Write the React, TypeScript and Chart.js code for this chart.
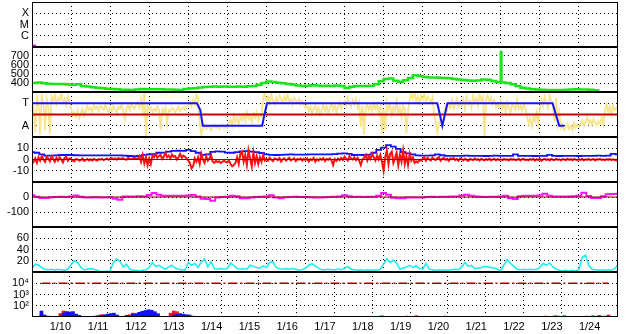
import React, { useEffect, useRef } from 'react';
import { Chart, registerables } from 'chart.js';

Chart.register(...registerables);

// ---------------- layout constants ----------------
const W = 628;
const H = 334;
const AXIS_W = 32;
const RIGHT_PAD = 10;
const PANEL_H = 45;
const PANEL_TOPS = [2, 47, 92, 137, 182, 227, 272];
const EDGE = 2;
const X_AXIS_H = 17;
const TOTAL_HOURS = 360;
const FONT = { family: "'Liberation Sans', Arial, sans-serif", size: 11 };

// ---------------- data ----------------
const DAY_LABELS = ['1/10', '1/11', '1/12', '1/13', '1/14', '1/15', '1/16', '1/17', '1/18', '1/19', '1/20', '1/21', '1/22', '1/23', '1/24'];
const REF_HOURS = [0, 360];

// panel 1 : X / M / C
const CAT_TICKS = [1, 2, 3];
const CAT_LABELS = ['C', 'M', 'X'];
const CAT_MARK_HOURS = [0, 2.5];
const CAT_MARK_VALUES = [0.13, 0.13];

// panel 2 : green (3 h step)
const P2_TICKS = [400, 500, 600, 700];
const GREEN_STEP = 3;
const GREEN_VALUES = [
  400, 405, 397, 392, 390, 390, 389, 384,
  380, 385, 368, 360, 352, 347, 341, 336,
  333, 330, 326, 324, 322, 327, 333, 331,
  330, 330, 331, 329, 327, 325, 322, 332,
  340, 343, 350, 355, 358, 360, 358, 360,
  359, 357, 360, 359, 364, 368, 380, 400,
  418, 410, 402, 398, 390, 382, 372, 368,
  370, 376, 372, 368, 370, 368, 371, 368,
  345, 358, 366, 368, 366, 370, 385, 420,
  445, 450, 425, 415, 430, 455, 485, 478,
  468, 462, 460, 458, 455, 452, 445, 438,
  433, 428, 424, 428, 440, 436, 422, 412,
  407, 400, 385, 368, 348, 338, 331, 327,
  324, 322, 322, 321, 323, 325, 328, 330,
  328, 327, 325, 320, 316,
];
const GREEN_SPIKE_HOURS = [287.6, 288, 288.4];
const GREEN_SPIKE_VALUES = [408, 745, 405];

// panel 3 : T / A  (yellow 1 h step)
const STATE_TICKS = [1, 3];
const STATE_LABELS = ['A', 'T'];
const THRESHOLD = [2, 2];
const YELLOW_STEP = 1;
const YELLOW_VALUES = [
  3.2, 2.6, 0.4, 3.5, 2.9, 0.2, 3.7, 3.0, 0.6, 3.4, 2.7, 0.3, 3.6, 3.1, 3.8, 2.9, 3.5, 3.2, 3.9, 3.0, 3.4, 2.8, 3.6, 3.1,
  2.6, 1.9, 2.2, 1.8, 2.4, 1.7, 2.1, 2.5, 1.9, 2.3, 2.8, 2.4, 2.6, 2.2, 2.9, 2.5, 2.7, 2.3, 2.8, 2.6, 2.4, 2.9, 2.5, 2.2,
  2.6, 2.3, 2.8, 2.4, 2.2, 2.7, 2.5, 2.9, 2.3, 1.6, 2.6, 2.8, 2.4, 3.0, 2.7, 2.5, 2.9, 3.1, 2.6, 3.4, 2.3, 4.0, 0.1, 2.8,
  2.4, 2.6, 2.2, 2.5, 2.3, 2.7, 2.4, 0.6, 2.5, 2.2, 2.6, 1.2, 2.4, 2.3, 2.6, 2.5, 2.2, 2.4, 2.7, 2.3, 2.5, 2.6, 2.4, 2.7,
  2.8, 3.1, 2.7, 3.3, 2.9, 3.8, 3.5, 1.2, 0.2, 0.8, 1.1, 0.7, 0.9, 1.0, 0.6, 0.9, 1.1, 0.8, 1.0, 0.7, 0.9, 1.1, 0.8, 1.0,
  0.8, 1.2, 1.6, 1.0, 1.9, 1.3, 1.7, 1.1, 1.8, 1.5, 2.0, 1.4, 2.2, 1.6, 1.9, 1.3, 2.1, 1.7, 2.2, 1.5, 2.0, 1.8, 3.5, 3.9,
  3.2, 3.6, 3.0, 3.8, 3.3, 2.9, 3.5, 3.1, 3.7, 3.4, 3.0, 3.6, 3.2, 3.8, 3.1, 3.4, 2.9, 3.5, 3.3, 3.0, 3.4, 2.9, 3.2, 2.8,
  2.6, 2.9, 2.3, 2.7, 2.1, 2.5, 2.8, 2.2, 2.6, 2.0, 2.4, 2.9, 2.3, 2.7, 2.1, 2.6, 3.0, 2.4, 2.8, 2.2, 2.7, 3.1, 2.5, 2.9,
  3.2, 2.8, 3.5, 3.0, 2.7, 3.3, 2.9, 3.4, 2.6, 3.1, 0.9, 2.8, 0.2, 2.6, 2.9, 2.4, 2.8, 2.3, 3.0, 2.5, 2.9, 2.2, 2.7, 0.3,
  2.5, 0.6, 3.1, 2.4, 2.9, 2.0, 2.7, 2.3, 3.2, 2.1, 2.6, 1.8, 2.8, 2.4, 0.3, 2.2, 3.3, 3.8, 3.4, 3.9, 3.2, 3.6, 3.0, 3.7,
  3.3, 3.8, 3.1, 3.6, 3.4, 3.0, 3.5, 2.1, 1.4, 0.4, 1.2, 1.8, 0.9, 1.6, 2.7, 2.4, 3.0, 2.6, 3.3, 2.5, 2.9, 3.4, 2.7, 3.1,
  2.8, 3.4, 2.5, 3.6, 2.9, 3.2, 2.6, 3.7, 3.0, 3.5, 2.8, 3.8, 3.2, 3.6, 0.1, 3.4, 3.7, 3.1, 3.5, 2.9, 3.3, 2.7, 3.0, 2.6,
  3.2, 2.5, 2.9, 2.3, 3.1, 2.6, 2.2, 3.0, 2.7, 2.4, 3.3, 2.5, 2.8, 2.3, 3.0, 2.6, 1.9, 1.2, 1.6, 0.9, 1.8, 1.4, 2.2, 1.1,
  2.4, 3.3, 2.8, 3.6, 3.1, 2.6, 3.7, 3.2, 2.9, 1.4, 3.5, 1.2, 2.2, 0.8, 1.1, 0.6, 0.9, 1.2, 0.7, 1.0, 0.6, 1.3, 0.8, 1.1,
  0.9, 1.2, 1.5, 1.0, 1.4, 1.7, 1.2, 1.5, 1.1, 1.6, 1.3, 1.0, 1.4, 1.2, 1.7, 1.1, 2.4, 2.9, 2.2, 2.7, 2.0, 2.8, 2.4, 2.6,
  2.3,
];
const STATE_HOURS = [0, 101.3, 103.4, 104.9, 141.4, 142.8, 144.4, 249, 252.1, 255.2, 319.8, 321.8, 323.9, 327];
const STATE_VALUES = [3, 3, 2.4, 1, 1, 2, 3, 3, 1, 3, 3, 2, 1, 1];

// panel 4 : +-10  (red 1 h step, blue 3 h step)
const P4_TICKS = [-10, 0, 10];
const ZERO = [0, 0];
const RED_STEP = 1;
const RED_VALUES = [
  -4, -2, 1, -3, 2, -1, 3, 0, -2, 2.5, 1, -1.5, 3, 0.5, -2, 1.5, -1, 2, 0, -2.5, 1.5, 2.5, -1, 1,
  0.5, -1, -1.5, 0.5, 0, -1, -0.5, 0.8, -1.2, -0.3, 0.4, -0.8, 0.2, -1, 0.6, -0.4, -0.9, 0.3, -0.2, 0.7, -0.6, 0.1, 0.9, -0.3,
  0.6, 1.2, 0.2, 0.9, -0.2, 1.4, 0.5, 0.8, 1.1, 0.3, -0.3, 1.3, 0.7, 0.2, 1.0, 1.6, 0.4, 0.9, 3, -2, 4, -3.5, 2, -5,
  1, -4, 3.5, 2, 5, 1.5, 3, 4, 0.5, 2.5, 6, 2, 3.5, 1, 4.5, 2.5, 3, 0, 2, 5, 1.5, 3.5, 2.5, 1,
  -1, -3, -8, -6, 1, -2, 2, -4, 5, 0, -3, 3, -1, 1, 4, -2, -3, -1, -2.5, -1.5, -3, -2, -1, -2,
  -2.5, -1, -4, -6, -5, -3, 2, -4, 5, 7, -2, 4, -5, 8, 1, -6, 6, -3, 3, -4, 2, -2, 4, -1,
  0.5, -1, 1.5, 0, -1.5, 1, 0.5, -0.5, 1.2, -1.8, 0.3, 1, -1, 0.2, 1.5, -0.8, 0, 1.1, -1.4, 0.4, -0.2, 0.9, -1.1, 0.6,
  -0.5, 1, -1.8, 0.3, -0.6, 1.4, -2, 0.2, -1, 0.8, -0.4, 1.2, -1.5, 0.5, -0.2, 1, -0.8, -5, 0.4, -1.2, 0.8, -0.6, 1.5, -0.3,
  2.5, 0.5, -1, 3, 1, 0, 2, -0.5, 1.5, -1, -5, 0, 1.5, 4, -1, 3, 0.5, 5, 2, -1, 3.5, 0, 4, -2,
  -10, 2, 8, -4, 5, 7, -3, 1, 6, -5, 4, -2, 8, -4, 3, -5, 5, -1, 2, -3, -1.5, -2.5, -0.5, -1,
  0.5, 2, -1, 1.5, 0, -0.8, 1.8, 0.3, -0.5, 1.2, 2, -1, 0.6, 1.5, -0.3, 0.8, -1.2, 1, 0.2, 1.6, -0.6, 0.4, -1, 0.9,
  0.3, -0.8, 0.6, -0.3, -1.2, 0.5, 0, -0.6, 0.9, -0.4, 0.2, -1, 0.7, -0.2, -0.7, 0.4, -0.5, 0.8, -0.9, 0.1, 0.5, -0.6, 0.3, -0.4,
  0.2, -0.7, 0.5, -0.3, 0.1, -0.9, 0.6, -0.4, 0.3, -0.6, -0.2, 0.7, -0.8, 0.2, 0.5, -0.5, 0, -0.7, 0.4, -0.3, 0.6, -1, 0.2, -0.4,
  0.4, -1.2, 0.1, 0.6, -0.5, 0.3, -0.8, 0.5, -0.2, -0.6, 0.7, -0.4, 0.2, -0.9, 0.4, 0, -0.5, 0.6, -0.3, 0.3, -0.7, 0.5, -0.1, -0.6,
  0.3, -0.5, 0.6, -0.8, 0.2, -0.3, 0.5, -0.6, 0, 0.4, -0.9, 0.3, -0.2, 0.6, -0.5, 0.1, -0.7, 0.4, -0.3, 0.5, -0.6, 0.2, -0.4, -0.8,
  -0.3,
];
const BLUE_STEP = 3;
const BLUE_VALUES = [
  6.5, 6, 4.5, 3.4, 3.4, 3.6, 4, 4,
  4, 3.8, 3.7, 3.7, 3.7, 3.6, 3.7, 3.6,
  3.7, 3.6, 3.7, 3.5, 3.1, 3.0, 3.2, 4.2,
  4.6, 4.8, 6, 6.2, 7, 7.6, 7.8, 7.7,
  8.6, 7.5, 6, 4.2, 4.5, 6.8, 7.2, 7,
  6.2, 6, 6.5, 7.2, 7.5, 7, 6.5, 5.8,
  4.5, 4.2, 4, 4.2, 4.3, 4.5, 4.3, 4.4,
  4.3, 4.5, 4.6, 4.6, 4.5, 4.6, 4.8, 5.2,
  5.5, 5, 4, 4.2, 4, 4.4, 6, 8.5,
  10.5, 12.8, 11.5, 9.5, 6.5, 5.5, 4.5, 3.6,
  3.4, 3.5, 3.6, 4.6, 3.8, 3.3, 3.2, 3.3,
  3.2, 3.4, 3.2, 3.3, 3.2, 3.1, 3.2, 3.4,
  3.3, 3.2, 3.2, 4.5, 3.3, 3.2, 3.2, 3.1,
  3.2, 3.3, 4.2, 3.2, 3.1, 3.2, 3.3, 3.2,
  3.1, 3.2, 3.3, 3.2, 3.4, 3.3, 3.5, 5,
  4.5,
];

// panel 5 : magenta
const P5_TICKS = [-100, 0];
const MAGENTA_STEP = 3;
const MAGENTA_VALUES = [
  12, 2, -7, -6, -2, 0, 1, 0,
  4, 10, 2, -3, -4, -2, -3, -4,
  -2, -12, -18, 3, 4, 3, 5, 4,
  14, 27, 15, 9, 8, 9, 8, 9,
  10, 13, 4, -12, -14, -25, -3, 0,
  1, 9, 5, -9, -8, -3, 0, 1,
  4, 11, -4, -9, -2, 0, 1, 0,
  0, -1, -3, -4, -1, 0, 1, 3,
  12, 5, 0, 1, 0, 1, 2, 8,
  27, 15, -5, -9, -8, -3, -4, -4,
  -3, 0, 1, 0, 2, 1, 3, 4,
  10, 15, 8, 3, 1, 0, 1, 2,
  4, 9, -8, -13, 5, 9, 8, 9,
  10, 22, 8, 4, 4, 3, 4, 5,
  8, 29, 6, -7, -6, 5, 18, 20,
  22,
];

// panel 6 : cyan
const P6_TICKS = [20, 40, 60];
const CYAN_STEP = 2;
const CYAN_VALUES = [
  7, 14, 12, 8, 5, 4, 5, 3, 5, 4, 3, 5,
  13, 20, 17, 8, 4, 5, 6, 5, 3, 1, 1, 1,
  2, 17, 23, 19, 9, 14, 5, 3, 3, 2, 3, 4,
  8, 17, 10, 12, 8, 5, 9, 12, 7, 5, 4, 3,
  17, 12, 15, 8, 18, 23, 9, 18, 6, 5, 6, 5,
  6, 16, 12, 6, 5, 6, 5, 12, 10, 8, 7, 11,
  8, 17, 18, 8, 6, 5, 6, 5, 6, 5, 3, 4,
  7, 12, 15, 11, 7, 4, 4, 5, 4, 4, 5, 4,
  7, 10, 5, 4, 3, 4, 3, 4, 3, 4, 3, 5,
  14, 24, 17, 21, 16, 5, 7, 9, 12, 8, 11, 6,
  5, 15, 5, 4, 3, 4, 3, 4, 3, 4, 5, 4,
  9, 17, 10, 12, 6, 7, 8, 10, 9, 8, 7, 5,
  2, 13, 22, 15, 10, 5, 4, 5, 4, 5, 4, 5,
  8, 15, 12, 16, 9, 5, 3, 2, 3, 2, 3, 2,
  4, 26, 30, 12, 5, 4, 3, 4, 3, 4, 3, 6,
  13,
];

// panel 7 : log bars
const P7_TICKS = [100, 1000, 10000];
const P7_LABELS = ['10²', '10³', '10⁴'];
const LIMIT = [10000, 10000];
const BLUE_BAR_HOURS = [0, 2, 4, 12, 14, 16, 18, 20, 22, 24, 34, 38, 40, 42, 44, 46, 48, 54, 56, 58, 60, 62, 64, 66, 68, 70, 72, 74, 84, 86, 88, 90, 92, 94, 96];
const BLUE_BAR_VALUES = [34, 15, 12, 13, 22, 30, 28, 30, 18, 14, 12, 14, 16, 18, 20, 22, 15, 14, 13, 18, 20, 26, 32, 38, 44, 40, 30, 20, 15, 18, 20, 18, 16, 15, 12];
const RED_BAR_HOURS = [0, 12, 14, 16, 18, 36, 38, 40, 56, 58, 60, 62, 66, 82, 84, 86, 88, 216, 232, 238, 256, 320, 326, 328, 332, 346, 350, 354, 358, 360];
const RED_BAR_VALUES = [20, 20, 34, 28, 15, 14, 16, 12, 16, 22, 18, 20, 25, 22, 34, 30, 14, 13, 12, 13, 12, 12, 13, 12, 13, 12, 13, 14, 12, 15];

// ---------------- helpers ----------------
const series = (values: number[], step: number) => values.map((v, i) => ({ x: i * step, y: v }));
const pairs = (xs: number[], ys: number[]) => xs.map((x, i) => ({ x, y: ys[i] }));

const line = (data: any[], color: string, width: number, extra: any = {}) => ({
  type: 'line',
  data,
  borderColor: color,
  backgroundColor: color,
  borderWidth: width,
  pointRadius: 0,
  tension: 0,
  fill: false,
  ...extra,
});

const bars = (data: any[], color: string) => ({
  type: 'bar',
  data,
  backgroundColor: color,
  borderWidth: 0,
  barThickness: 3,
  grouped: false,
});

const HALF_DAY_TICKS = Array.from({ length: TOTAL_HOURS / 12 + 1 }, (_, i) => i * 12);

const framePlugin = {
  id: 'panelFrame',
  afterDatasetsDraw(chart: any) {
    const { ctx, chartArea: a } = chart;
    ctx.save();
    ctx.setLineDash([]);
    ctx.strokeStyle = '#000';
    ctx.lineWidth = 1;
    ctx.strokeRect(a.left + 0.5, a.top + 0.5, a.right - a.left - 1, a.bottom - a.top - 1);
    ctx.restore();
  },
};

type Panel = {
  log?: boolean;
  min: number;
  max: number;
  ticks: number[];
  label: (v: number) => string;
  datasets: any[];
};

const greenPoints = [...series(GREEN_VALUES, GREEN_STEP), ...pairs(GREEN_SPIKE_HOURS, GREEN_SPIKE_VALUES)].sort((a, b) => a.x - b.x);

const PANELS: Panel[] = [
  {
    min: 0, max: 4, ticks: CAT_TICKS,
    label: (v) => CAT_LABELS[CAT_TICKS.indexOf(v)] ?? '',
    datasets: [line(pairs(CAT_MARK_HOURS, CAT_MARK_VALUES), '#ff00ff', 2)],
  },
  {
    min: 300, max: 800, ticks: P2_TICKS, label: (v) => String(v),
    datasets: [line(greenPoints, '#19e619', 2.5, { stepped: true })],
  },
  {
    min: 0, max: 4, ticks: STATE_TICKS,
    label: (v) => STATE_LABELS[STATE_TICKS.indexOf(v)] ?? '',
    datasets: [
      line(pairs(STATE_HOURS, STATE_VALUES), '#1414ff', 2),
      line(pairs(REF_HOURS, THRESHOLD), '#c80000', 2),
      line(series(YELLOW_VALUES, YELLOW_STEP), 'rgb(248,228,140)', 1.8),
    ],
  },
  {
    min: -20, max: 20, ticks: P4_TICKS, label: (v) => String(v),
    datasets: [
      line(pairs(REF_HOURS, ZERO), '#990000', 1),
      line(series(RED_VALUES, RED_STEP), '#ff1010', 2),
      line(series(BLUE_VALUES, BLUE_STEP), '#1010ff', 1.8, { stepped: 'middle' }),
    ],
  },
  {
    min: -200, max: 100, ticks: P5_TICKS, label: (v) => String(v),
    datasets: [
      line(pairs(REF_HOURS, ZERO), '#990000', 1),
      line(series(MAGENTA_VALUES, MAGENTA_STEP), '#ff10ff', 2, { stepped: 'middle' }),
    ],
  },
  {
    min: 0, max: 80, ticks: P6_TICKS, label: (v) => String(v),
    datasets: [line(series(CYAN_VALUES, CYAN_STEP), '#10f0f0', 1.5)],
  },
  {
    log: true, min: 10, max: 100000, ticks: P7_TICKS,
    label: (v) => P7_LABELS[P7_TICKS.indexOf(v)] ?? '',
    datasets: [
      line(pairs(REF_HOURS, LIMIT), '#a00000', 1.5, { borderDash: [9, 3, 2, 3] }),
      bars(pairs(BLUE_BAR_HOURS, BLUE_BAR_VALUES), '#1010ff'),
      bars(pairs(RED_BAR_HOURS, RED_BAR_VALUES), '#ff1010'),
    ],
  },
];

function buildConfig(p: Panel, showX: boolean): any {
  return {
    type: 'line',
    data: { datasets: p.datasets },
    plugins: [framePlugin],
    options: {
      responsive: false,
      maintainAspectRatio: false,
      devicePixelRatio: 1,
      animation: false,
      events: [],
      layout: { autoPadding: false, padding: { top: EDGE, bottom: showX ? 0 : EDGE, left: 0, right: RIGHT_PAD } },
      plugins: { legend: { display: false }, tooltip: { enabled: false } },
      scales: {
        x: {
          type: 'linear',
          min: 0,
          max: TOTAL_HOURS,
          afterBuildTicks: (s: any) => { s.ticks = HALF_DAY_TICKS.map((v) => ({ value: v })); },
          afterFit: (s: any) => { s.height = showX ? X_AXIS_H : 0; s.paddingLeft = 0; s.paddingRight = 0; },
          grid: {
            drawTicks: false,
            lineWidth: 1,
            color: (c: any) => {
              const v = c.tick ? c.tick.value : -1;
              return v > 0 && v < TOTAL_HOURS && v % 24 === 0 ? '#000' : 'rgba(0,0,0,0)';
            },
          },
          border: { display: false, dash: [1, 3] },
          ticks: {
            display: showX,
            autoSkip: false,
            maxRotation: 0,
            padding: 3,
            color: '#000',
            font: FONT,
            callback: (v: number) => (v % 24 === 12 ? DAY_LABELS[(v - 12) / 24] : ''),
          },
        },
        y: {
          type: p.log ? 'logarithmic' : 'linear',
          min: p.min,
          max: p.max,
          afterBuildTicks: (s: any) => { s.ticks = p.ticks.map((v) => ({ value: v })); },
          afterFit: (s: any) => { s.width = AXIS_W; s.paddingTop = 0; s.paddingBottom = 0; },
          grid: { drawTicks: false, lineWidth: 1, color: '#000' },
          border: { display: false, dash: [1, 3] },
          ticks: { autoSkip: false, padding: 3, color: '#000', font: FONT, callback: (v: number) => p.label(v) },
        },
      },
    },
  };
}

export default function App() {
  const refs = useRef<(HTMLCanvasElement | null)[]>([]);

  useEffect(() => {
    document.body.style.margin = '0';
    const charts = PANELS.map((p, i) => {
      const canvas = refs.current[i];
      if (!canvas) return null;
      return new Chart(canvas, buildConfig(p, i === PANELS.length - 1));
    });
    return () => charts.forEach((c) => c && c.destroy());
  }, []);

  return (
    <div style={{ position: 'relative', width: W, height: H, background: '#fff', overflow: 'hidden' }}>
      {PANELS.map((_, i) => {
        const top = PANEL_TOPS[i] - EDGE;
        const last = i === PANELS.length - 1;
        const h = last ? H - top : PANEL_H + 2 * EDGE;
        return (
          <canvas
            key={i}
            ref={(el) => { refs.current[i] = el; }}
            width={W}
            height={h}
            style={{ position: 'absolute', left: 0, top, width: W, height: h }}
          />
        );
      })}
    </div>
  );
}
